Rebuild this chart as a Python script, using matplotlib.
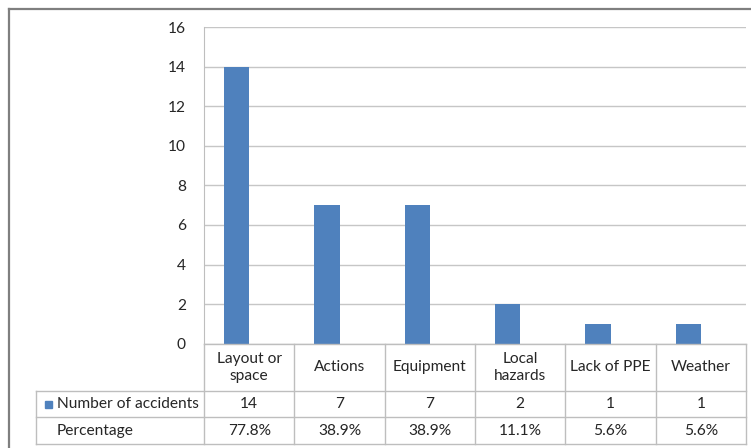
import matplotlib
matplotlib.use("Agg")
import matplotlib.pyplot as plt
from matplotlib import transforms
from matplotlib.lines import Line2D
from matplotlib.patches import Rectangle

categories = ["Layout or\nspace", "Actions", "Equipment", "Local\nhazards", "Lack of PPE", "Weather"]
accidents = [14, 7, 7, 2, 1, 1]
percentages = ["77.8%", "38.9%", "38.9%", "11.1%", "5.6%", "5.6%"]
y_ticks = [0, 2, 4, 6, 8, 10, 12, 14, 16]
series_name = "Number of accidents"
row_name = "Percentage"

BAR_COLOR = "#4F81BD"
GRID_COLOR = "#C6C6C6"
LINE_COLOR = "#BEBEBE"
TEXT_COLOR = "#262626"
FONT = ["Lato", "DejaVu Sans"]
FS = 11.2

plt.rcParams["font.family"] = FONT

fig = plt.figure(figsize=(7.51, 4.48), dpi=100)
H = 448.0
W = 751.0


def fy(px):
    return 1 - px / H


ax = fig.add_axes([204 / W, fy(343.5), 542 / W, (343.5 - 27.5) / H])

x = list(range(len(categories)))
ax.bar([i - 0.14 for i in x], accidents, width=0.28, color=BAR_COLOR, zorder=3)
ax.set_xlim(-0.5, len(categories) - 0.5)
ax.set_ylim(0, 16)
ax.set_yticks(y_ticks)
ax.set_xticks([])
ax.yaxis.grid(True, color=GRID_COLOR, linewidth=1.0)
ax.set_axisbelow(True)
for side in ["top", "right", "bottom"]:
    ax.spines[side].set_visible(False)
ax.spines["left"].set_color(LINE_COLOR)
ax.tick_params(axis="y", length=0, pad=13, labelsize=FS, labelcolor=TEXT_COLOR)

# data table under the chart
pos = ax.get_position()
row_lines = [fy(343.5), fy(391), fy(417), fy(444)]
left_edge = 36 / W
blend = transforms.blended_transform_factory(ax.transData, fig.transFigure)

for y in row_lines[1:]:
    fig.add_artist(Line2D([left_edge, pos.x1], [y, y], transform=fig.transFigure,
                          color=LINE_COLOR, linewidth=1.0))
fig.add_artist(Line2D([pos.x0, pos.x1], [row_lines[0], row_lines[0]],
                      transform=fig.transFigure, color=LINE_COLOR, linewidth=1.0))
fig.add_artist(Line2D([left_edge, left_edge], [row_lines[1], row_lines[3]],
                      transform=fig.transFigure, color=LINE_COLOR, linewidth=1.0))
for k in range(len(categories) + 1):
    xb = k - 0.5
    fig.add_artist(Line2D([xb, xb], [row_lines[0], row_lines[3]], transform=blend,
                          color=LINE_COLOR, linewidth=1.0))

for i, (cat, n, p) in enumerate(zip(categories, accidents, percentages)):
    fig.text(i, (row_lines[0] + row_lines[1]) / 2, cat, transform=blend, ha="center",
             va="center", fontsize=FS, color=TEXT_COLOR, linespacing=1.3)
    fig.text(i, (row_lines[1] + row_lines[2]) / 2, str(n), transform=blend, ha="center",
             va="center", fontsize=FS, color=TEXT_COLOR)
    fig.text(i, (row_lines[2] + row_lines[3]) / 2, p, transform=blend, ha="center",
             va="center", fontsize=FS, color=TEXT_COLOR)

# legend key + row headers
fig.add_artist(Rectangle((45 / W, fy(408)), 7 / W, 7 / H, transform=fig.transFigure,
                         color=BAR_COLOR))
fig.text(57 / W, (row_lines[1] + row_lines[2]) / 2, series_name, ha="left", va="center",
         fontsize=FS, color=TEXT_COLOR)
fig.text(57 / W, (row_lines[2] + row_lines[3]) / 2, row_name, ha="left", va="center",
         fontsize=FS, color=TEXT_COLOR)

# outer frame (top and left edges visible)
fig.add_artist(Line2D([8.5 / W, 1], [fy(9), fy(9)], transform=fig.transFigure,
                      color="#7F7F7F", linewidth=1.6))
fig.add_artist(Line2D([8.5 / W, 8.5 / W], [fy(9), 0], transform=fig.transFigure,
                      color="#7F7F7F", linewidth=1.6))

fig.savefig("out.png", dpi=100)
